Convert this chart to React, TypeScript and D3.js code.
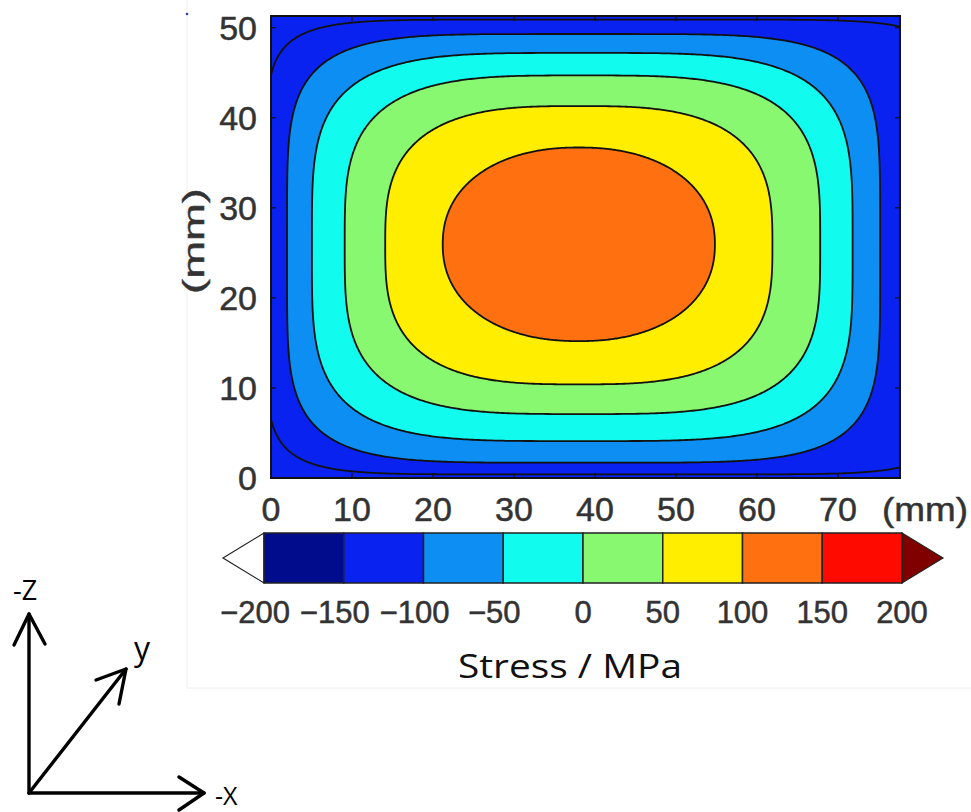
import React from "react";
import * as d3 from "d3";

// ---- data ----
const xTicks = [0, 10, 20, 30, 40, 50, 60, 70];
const yTicks = [0, 10, 20, 30, 40, 50];
const xDomain = [0, 77.65];
const yDomain = [0, 51.3];

// contour levels (MPa) and their extents in mm
const contourLevels = [-150, -100, -50, 0, 50, 100];
const contourLeft = [-0.6, 1.98, 5.05, 9.1, 14.1, 21.2];
const contourRight = [85, 75.2, 71.8, 67.8, 61.9, 54.8];
const contourBottom = [0.4, 1.7, 4.1, 7.1, 10.4, 15.2];
const contourTop = [50.9, 49.3, 47.2, 44.7, 41.3, 36.7];
const contourSquareness = [8, 5, 4, 3.5, 3, 2.2];

// colour bar
const cbLevels = [-200, -150, -100, -50, 0, 50, 100, 150, 200];
const cbColors = ["#000c8c", "#0a22f0", "#0c8ef2", "#12fbef", "#88f870", "#ffee00", "#ff7010", "#ff0a00"];
const cbOverColor = "#800000";
const cbUnderColor = "#ffffff";

const W = 971;
const H = 812;

const plotL = 271, plotR = 900, plotT = 16, plotB = 478;

function colorForLevel(level: number) {
  const i = cbLevels.indexOf(level);
  return cbColors[i];
}

export default function App() {
  const x = d3.scaleLinear().domain(xDomain).range([plotL, plotR]);
  const y = d3.scaleLinear().domain(yDomain).range([plotB, plotT]);
  const cb = d3.scaleLinear().domain([cbLevels[0], cbLevels[cbLevels.length - 1]]).range([264, 902]);

  const line = d3
    .line<[number, number]>()
    .x((d) => x(d[0]))
    .y((d) => y(d[1]))
    .curve(d3.curveLinearClosed);

  const angles = d3.range(0, 360, 0.5).map((a) => (a * Math.PI) / 180);

  const contours = contourLevels.map((lev, i) => {
    const l = contourLeft[i], r = contourRight[i], b = contourBottom[i], t = contourTop[i];
    const n = contourSquareness[i];
    const cx = (l + r) / 2, cy = (b + t) / 2;
    const ax = (r - l) / 2, ay = (t - b) / 2;
    const pts: [number, number][] = angles.map((th) => {
      const c = Math.cos(th), s = Math.sin(th);
      return [
        cx + ax * Math.sign(c) * Math.pow(Math.abs(c), 2 / n),
        cy + ay * Math.sign(s) * Math.pow(Math.abs(s), 2 / n),
      ];
    });
    // region inside level lev has values in [lev, lev+50]
    const fill = colorForLevel(lev);
    return { lev, d: line(pts) as string, fill };
  });

  const tickFont = "'Liberation Sans', Arial, Helvetica, sans-serif";
  const textColor = "#333333";

  const cbTop = 533, cbBot = 583, cbMid = (cbTop + cbBot) / 2;

  return (
    <svg width={W} height={H} style={{ display: "block", position: "absolute", left: 0, top: 0 }}>
      <rect x={0} y={0} width={W} height={H} fill="#ffffff" />
      {/* faint panel border of pasted figure */}
      <path d={`M187,0 L187,688 L971,688`} fill="none" stroke="#eeeeee" strokeWidth={1} />
      <circle cx={187} cy={14} r={1.3} fill="#3040a0" />

      <defs>
        <clipPath id="plotClip">
          <rect x={plotL} y={plotT} width={plotR - plotL} height={plotB - plotT} />
        </clipPath>
      </defs>

      {/* contour fills */}
      <g clipPath="url(#plotClip)">
        <rect x={plotL} y={plotT} width={plotR - plotL} height={plotB - plotT} fill={cbColors[1]} />
        {contours.map((c, i) => (
          <path key={c.lev} d={c.d} fill={i === 0 ? cbColors[1] : c.fill} stroke="#111" strokeWidth={1.8} />
        ))}
      </g>

      {/* ticks (inward) */}
      <g stroke="#111" strokeWidth={1.2}>
        {xTicks.map((t) => (
          <g key={"xt" + t}>
            <line x1={x(t)} x2={x(t)} y1={plotB} y2={plotB - 5} />
            <line x1={x(t)} x2={x(t)} y1={plotT} y2={plotT + 5} />
          </g>
        ))}
        {yTicks.map((t) => (
          <g key={"yt" + t}>
            <line x1={plotL} x2={plotL + 5} y1={y(t)} y2={y(t)} />
            <line x1={plotR} x2={plotR - 5} y1={y(t)} y2={y(t)} />
          </g>
        ))}
      </g>
      <rect x={plotL} y={plotT} width={plotR - plotL} height={plotB - plotT} fill="none" stroke="#111" strokeWidth={2} />

      {/* tick labels */}
      <g fontFamily={tickFont} fontSize={34} fill={textColor} stroke={textColor} strokeWidth={0.5}>
        {xTicks.map((t) => (
          <text key={"xl" + t} x={x(t)} y={521} textAnchor="middle">
            {t}
          </text>
        ))}
        <text x={882} y={521} textLength={86} lengthAdjust="spacingAndGlyphs">
          (mm)
        </text>
        {yTicks.map((t) => (
          <text key={"yl" + t} x={257} y={y(t)} textAnchor="end" dominantBaseline="central">
            {t}
          </text>
        ))}
      </g>
      <text
        transform={`translate(204,241) rotate(-90)`}
        textAnchor="middle"
        fontFamily={tickFont}
        fontSize={30}
        fill={textColor}
        stroke={textColor}
        strokeWidth={0.4}
        textLength={106}
        lengthAdjust="spacingAndGlyphs"
      >
        (mm)
      </text>

      {/* colour bar */}
      <g>
        <path
          d={`M${cb(cbLevels[0])},${cbTop} L${cb(cbLevels[0]) - 41},${cbMid} L${cb(cbLevels[0])},${cbBot} Z`}
          fill={cbUnderColor}
          stroke="#222"
          strokeWidth={1.2}
        />
        <path
          d={`M${cb(cbLevels[8])},${cbTop} L${cb(cbLevels[8]) + 41},${cbMid} L${cb(cbLevels[8])},${cbBot} Z`}
          fill={cbOverColor}
          stroke="#222"
          strokeWidth={1.2}
        />
        {cbColors.map((c, i) => (
          <rect
            key={"cb" + i}
            x={cb(cbLevels[i])}
            y={cbTop}
            width={cb(cbLevels[i + 1]) - cb(cbLevels[i])}
            height={cbBot - cbTop}
            fill={c}
            stroke="#222"
            strokeWidth={1.5}
          />
        ))}
      </g>
      <g fontFamily={tickFont} fontSize={31} fill={textColor} stroke={textColor} strokeWidth={0.5}>
        {cbLevels.map((v) => (
          <text key={"cbl" + v} x={cb(v) + (v < 0 ? -9 : 0)} y={623} textAnchor="middle">
            {v < 0 ? "\u2212" + Math.abs(v) : String(v)}
          </text>
        ))}
      </g>
      <text
        x={458}
        y={678}
        fontFamily="'Open Sans', 'Noto Sans', sans-serif"
        fontSize={33}
        fill="#111"
        textLength={224}
        lengthAdjust="spacingAndGlyphs"
      >
        Stress / MPa
      </text>

      {/* coordinate axes diagram */}
      <g stroke="#000" strokeWidth={3.4} fill="none" strokeLinecap="round" strokeLinejoin="round">
        <line x1={29} y1={793} x2={29} y2={614} />
        <polyline points="14,645 29,614 45,644" />
        <line x1={29} y1={793} x2={204} y2={793} />
        <polyline points="179,777 204,793 179,810" />
        <line x1={29} y1={793} x2={126} y2={669} />
        <polyline points="96,680 126,669 119,704" />
      </g>
      <g fontFamily="'Open Sans', 'Noto Sans', sans-serif" fill="#000">
        <text x={13} y={600} fontSize={27}>-Z</text>
        <text x={134} y={660} fontSize={32}>y</text>
        <text x={215} y={805} fontSize={25}>-X</text>
      </g>
    </svg>
  );
}
